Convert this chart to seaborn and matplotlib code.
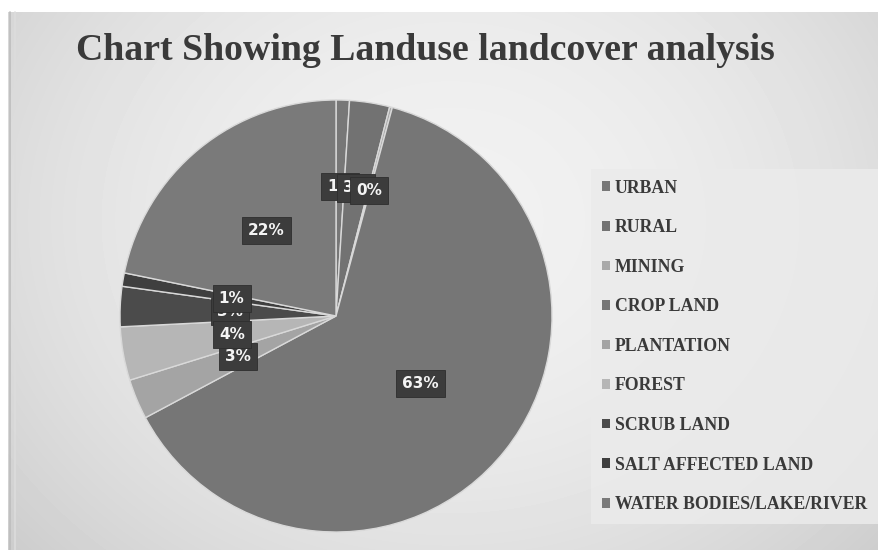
import numpy as np
import matplotlib
matplotlib.use("Agg")
import matplotlib.pyplot as plt
from matplotlib.patches import Patch
import seaborn as sns

# Land use / land cover shares (percent of total area)
categories = ["URBAN", "RURAL", "MINING", "CROP LAND", "PLANTATION", "FOREST",
              "SCRUB LAND", "SALT AFFECTED LAND", "WATER BODIES/LAKE/RIVER"]
shares = [1, 3, 0.2, 63, 3, 4, 3, 1, 21.8]
title = "Chart Showing Landuse landcover analysis"

# Grey fill for each class
slice_colors = ["#777777", "#727272", "#a9a9a9", "#767676", "#a4a4a4",
                "#b6b6b6", "#4b4b4b", "#3f3f3f", "#7a7a7a"]
# radial placement of each percentage box and its stacking layer
label_radius = [0.6, 0.6, 0.6, 0.5, 0.49, 0.49, 0.49, 0.49, 0.51]
label_layer = [5, 6, 7, 5, 6, 7, 4, 8, 5]

sns.set_theme(style="white")
plt.rcParams["font.family"] = ["DejaVu Sans"]

W, H = 879, 550
fig = plt.figure(figsize=(W / 100, H / 100), dpi=100)
fig.patch.set_facecolor("white")

# shaded backdrop of the chart area
bg = fig.add_axes([0, 0, 1, 1])
bg.set_xlim(0, W)
bg.set_ylim(H, 0)
bg.axis("off")
yy, xx = np.mgrid[12:H, 8:W]
d2 = ((xx - 450) / 560.0) ** 2 + ((yy - 220) / 470.0) ** 2
shade = np.clip(0.945 - 0.13 * d2, 0, 1)
bg.imshow(shade, cmap="gray", vmin=0, vmax=1, extent=(8, W, H, 12),
          aspect="auto", interpolation="bilinear", zorder=0)
bg.axvline(10, ymin=0, ymax=1 - 12 / H, color="#bdbdbd", lw=1.2, zorder=1)
bg.axvline(15, ymin=0, ymax=1 - 12 / H, color="#dcdcdc", lw=1.2, zorder=1)

# pie
cx, cy, r = 336, 316, 216
ax = fig.add_axes([(cx - r) / W, (H - cy - r) / H, 2 * r / W, 2 * r / H])
ax.set_facecolor("none")
wedges, _, autotexts = ax.pie(
    shares, colors=slice_colors, startangle=90, counterclock=False,
    autopct=lambda p: f"{p:.0f}%", pctdistance=0.5,
    wedgeprops=dict(edgecolor="#d9d9d9", linewidth=1.0),
    textprops=dict(color="#f4f4f4", fontsize=11, fontweight="bold"),
)
ax.set_xlim(-1.0, 1.0)
ax.set_ylim(-1.0, 1.0)
ax.set_aspect("equal")
ax.axis("off")

for w, t, rad, z in zip(wedges, autotexts, label_radius, label_layer):
    mid = np.deg2rad((w.theta1 + w.theta2) / 2)
    t.set_position((rad * np.cos(mid), rad * np.sin(mid)))
    t.set_ha("center")
    t.set_va("center")
    t.set_zorder(z)
    t.set_bbox(dict(boxstyle="square,pad=0.4", facecolor="#3c3c3c",
                    edgecolor="#2e2e2e", linewidth=0.6))

# title
fig.text(425 / W, 1 - 51 / H, title, ha="center", va="center",
         family="Liberation Serif", fontweight="bold", fontsize=27.2,
         color="#3a3a3a")

# legend
handles = [Patch(facecolor=c, edgecolor="none") for c in slice_colors]
leg = fig.legend(handles, categories, loc="upper left",
                 bbox_to_anchor=(582 / W, 1 - 160 / H),
                 frameon=True, fancybox=False, facecolor="#ebebeb",
                 edgecolor="none", framealpha=0.85,
                 prop=dict(family="Liberation Serif", weight="bold", size=12.8),
                 labelcolor="#3a3a3a", handlelength=0.45, handleheight=0.45,
                 handletextpad=0.3, labelspacing=1.27, borderpad=0.6)

fig.savefig("out.png", dpi=100)
